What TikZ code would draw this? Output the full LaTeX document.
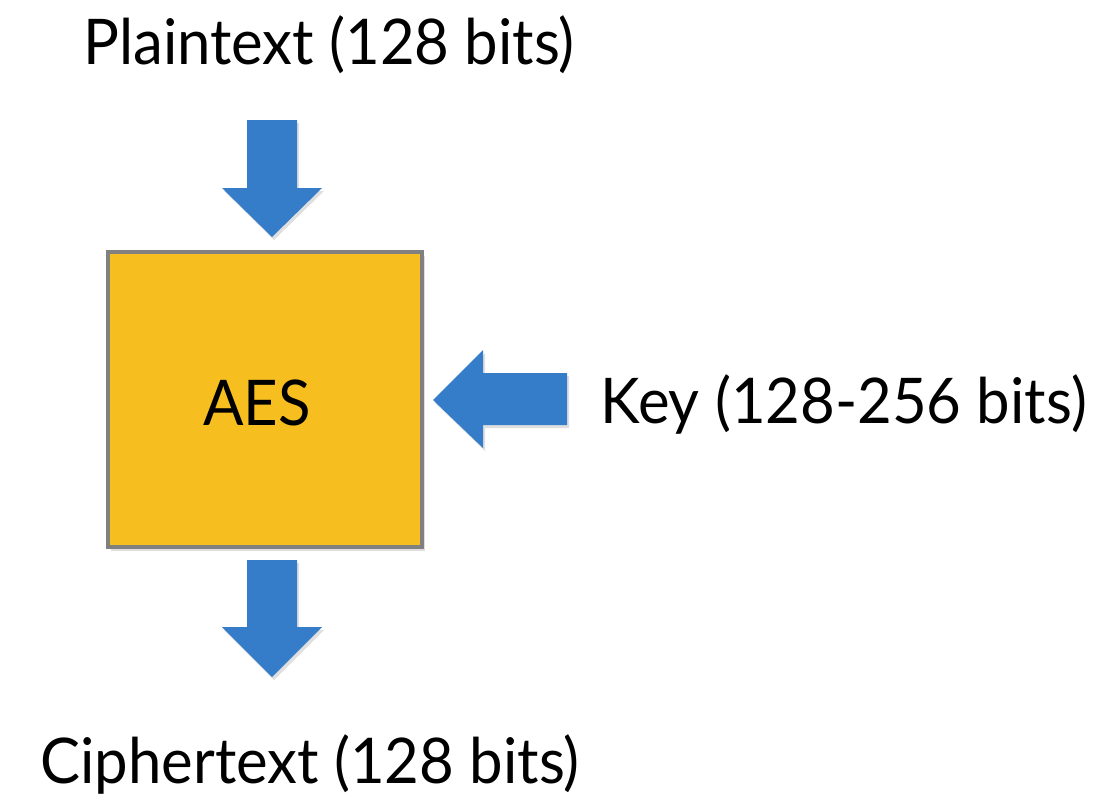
\documentclass[tikz,border=0pt]{standalone}
\usepackage{fontspec}
\setmainfont{Lato}[FakeStretch=0.95]
\usetikzlibrary{shadows}
\definecolor{arrowblue}{RGB}{54,125,201}
\definecolor{aesfill}{RGB}{246,190,30}
\definecolor{aesedge}{RGB}{128,128,128}
\tikzset{
  blockarrow/.style={fill=arrowblue, draw=none, drop shadow={opacity=0.25, shadow xshift=2pt, shadow yshift=-3pt}},
  aesbox/.style={fill=aesfill, draw=aesedge, line width=4pt, drop shadow={opacity=0.25, shadow xshift=3pt, shadow yshift=-4pt}},
  lbl/.style={font=\fontsize{63}{70}\selectfont, inner sep=0pt}
}
\begin{document}
\begin{tikzpicture}[x=1pt,y=-1pt]
\useasboundingbox (0,0) rectangle (1099,801);
% box
\draw[aesbox] (108,252) rectangle (422,547);
\node[lbl, anchor=base] (aes) at (257,425) {AES};
% labels
\node[lbl, anchor=base] (plain) at (329,64) {Plaintext (128 bits)};
\node[lbl, anchor=base east] (key) at (1087,423) {Key (128-256 bits)};
\node[lbl, anchor=base] (cipher) at (310,783) {Ciphertext (128 bits)};
% arrows
\path[blockarrow] (247,120) -- (297,120) -- (297,188) -- (322,188) -- (272,237) -- (222,188) -- (247,188) -- cycle;
\path[blockarrow] (247,560) -- (297,560) -- (297,627) -- (322,627) -- (272,677) -- (222,627) -- (247,627) -- cycle;
\path[blockarrow] (567,373) -- (567,425) -- (483,425) -- (483,448) -- (433,400) -- (483,350) -- (483,373) -- cycle;
\end{tikzpicture}
\end{document}
